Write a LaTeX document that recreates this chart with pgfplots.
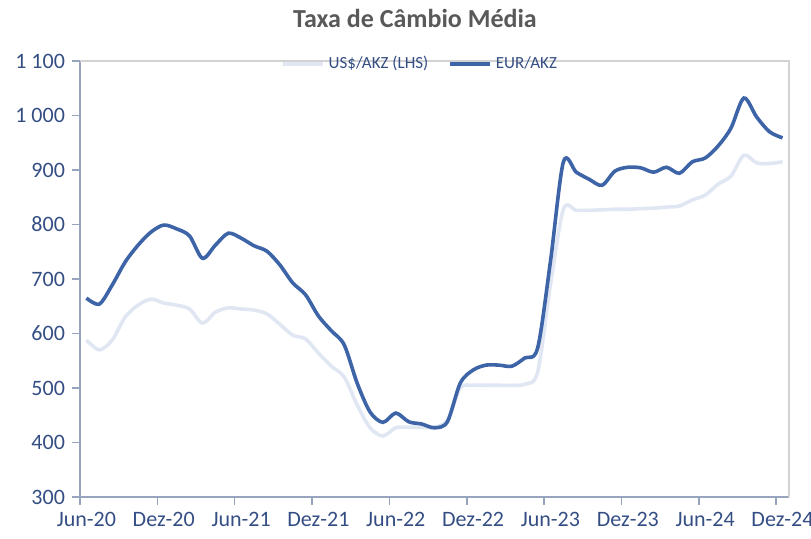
\documentclass[border=0pt]{standalone}
\usepackage{pgfplots}
\pgfplotsset{compat=1.18}
\usepackage{fontspec}
\setmainfont{Carlito}

\definecolor{eurblue}{RGB}{62,100,168}
\definecolor{usdlight}{RGB}{224,231,242}
\definecolor{labelblue}{RGB}{52,78,132}
\definecolor{titlegray}{RGB}{89,89,89}
\definecolor{axisgray}{RGB}{150,164,190}
\definecolor{boxgray}{RGB}{210,210,210}

% x = month index + 0.5 (Jun-20 = 0)
\pgfplotstableread{
x     usd  eur
0.5   588  665
1.5   570  654
2.5   588  689
3.5   630  731
4.5   652  762
5.5   663  786
6.5   656  799
7.5   652  792
8.5   645  779
9.5   619  738
10.5  639  762
11.5  647  784
12.5  645  775
13.5  643  761
14.5  636  751
15.5  617  726
16.5  597  693
17.5  590  671
18.5  564  632
19.5  540  605
20.5  520  579
21.5  469  509
22.5  427  456
23.5  412  437
24.5  427  454
25.5  428  438
26.5  428  434
27.5  428  427
28.5  441  438
29.5  500  509
30.5  505  533
31.5  505  542
32.5  505  542
33.5  505  540
34.5  507  555
35.5  529  573
36.5  690  733
37.5  828  915
38.5  826  896
39.5  826  883
40.5  827  872
41.5  828  898
42.5  828  905
43.5  829  904
44.5  830  896
45.5  832  905
46.5  834  894
47.5  845  915
48.5  854  922
49.5  874  944
50.5  889  977
51.5  927  1032
52.5  913  997
53.5  912  970
54.5  915  959
}\fxdata

\begin{document}
\begin{tikzpicture}
\useasboundingbox (-40pt,-20.5pt) rectangle (365.5pt,248.5pt);
\begin{axis}[
    scale only axis,
    width=354.5pt,
    height=218pt,
    xmin=0, xmax=55,
    ymin=300, ymax=1100,
    axis lines*=left,
    axis line style={draw=axisgray, line width=0.8pt},
    tick style={draw=axisgray, line width=0.8pt},
    tick align=outside,
    major tick length=4pt,
    xtick={0,6,...,54},
    xticklabels={Jun-20,Dez-20,Jun-21,Dez-21,Jun-22,Dez-22,Jun-23,Dez-23,Jun-24,Dez-24},
    xticklabel style={xshift=3.2pt, font=\fontsize{11}{13}\selectfont, text=labelblue},
    ytick={300,400,...,1100},
    yticklabels={300,400,500,600,700,800,900,1 000,1 100},
    yticklabel style={font=\fontsize{11}{13}\selectfont, text=labelblue},
    title={Taxa de Câmbio Média},
    title style={font=\fontsize{13}{15}\selectfont\bfseries, text=titlegray,
        at={(axis description cs:0.4725,1)}, anchor=base, yshift=11pt},
    legend style={at={(axis description cs:0.481,0.993)}, anchor=center,
        draw=none, fill=none, font=\fontsize{8.5}{10}\selectfont, text=labelblue,
        legend columns=2, /tikz/every even column/.append style={column sep=8pt}},
    legend image code/.code={\draw[#1] (0pt,0pt) -- (20pt,0pt);},
    after end axis/.code={
        \draw[boxgray, line width=0.6pt] (rel axis cs:0,1) -- (rel axis cs:1,1) -- (rel axis cs:1,0);
    },
]
\addplot[usdlight, line width=1.8pt, smooth, tension=0.5] table[x=x, y=usd] {\fxdata};
\addlegendentry{US\$/AKZ (LHS)}
\addplot[eurblue, line width=1.8pt, smooth, tension=0.5] table[x=x, y=eur] {\fxdata};
\addlegendentry{EUR/AKZ}
\end{axis}
\end{tikzpicture}
\end{document}
